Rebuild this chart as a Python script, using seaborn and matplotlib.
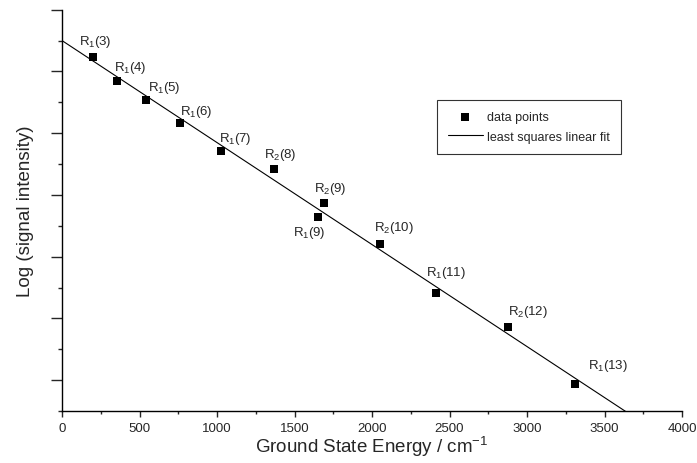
import numpy as np
import pandas as pd
import matplotlib
matplotlib.use('Agg')
import matplotlib.pyplot as plt
import seaborn as sns

# data
labels = ['R$_1$(3)', 'R$_1$(4)', 'R$_1$(5)', 'R$_1$(6)', 'R$_1$(7)', 'R$_2$(8)',
          'R$_2$(9)', 'R$_1$(9)', 'R$_2$(10)', 'R$_1$(11)', 'R$_2$(12)', 'R$_1$(13)']
energy = [202, 353, 542, 763, 1024, 1366, 1688, 1650, 2052, 2411, 2875, 3310]
log_signal = [11.46, 10.70, 10.08, 9.32, 8.42, 7.85, 6.73, 6.29, 5.41, 3.83, 2.71, 0.86]

# least squares linear fit (as drawn in the reference)
fit_intercept = 12.0
fit_slope = -0.003304
fit_x = [0, 4000]

# label offsets in pixels (dx, dy) from each marker
label_offsets = [(-14, 13), (-3, 11), (2, 10), (0, 9), (-2, 10.5), (-10, 11.5),
                 (-10, 12), (-25, -18), (-6, 14), (-10, 18), (0, 13.5), (13, 16.5)]

sns.set_style('ticks')
plt.rcParams['font.family'] = ['Liberation Sans', 'DejaVu Sans']
plt.rcParams['mathtext.default'] = 'regular'

df = pd.DataFrame({'energy': energy, 'log_signal': log_signal, 'label': labels})
fit = pd.DataFrame({'x': fit_x, 'y': [fit_intercept + fit_slope * x for x in fit_x]})

fig = plt.figure(figsize=(6.97, 4.64), dpi=100)
ax = fig.add_axes([62 / 697, 1 - 412 / 464, 620 / 697, (412 - 10.7) / 464])

sns.scatterplot(data=df, x='energy', y='log_signal', marker='s', s=28, color='black',
                edgecolor='black', linewidth=0, ax=ax, label='data points', zorder=3)
sns.lineplot(data=fit, x='x', y='y', color='black', linewidth=0.8, ax=ax,
             label='least squares linear fit')

for (x, y, lab), (dx, dy) in zip(zip(energy, log_signal, labels), label_offsets):
    ax.annotate(lab, (x, y), xytext=(dx, dy), textcoords='offset pixels',
                ha='left', va='baseline', fontsize=9.5)

ax.set_xlim(0, 4000)
ax.set_ylim(0, 13)
ax.set_xticks(np.arange(0, 4001, 500))
ax.set_xticks(np.arange(0, 4001, 250), minor=True)
ax.set_yticks(np.arange(1, 14, 2))
ax.set_yticks(np.arange(0, 13, 2), minor=True)
ax.tick_params(axis='y', which='both', labelleft=False)
ax.tick_params(axis='y', which='major', length=8, width=1)
ax.tick_params(axis='y', which='minor', length=3, width=1)
ax.tick_params(axis='x', which='major', length=4.5, width=1, labelsize=9.5, pad=3.5)
ax.tick_params(axis='x', which='minor', length=2.5, width=1)
for s in ['left', 'bottom']:
    ax.spines[s].set_linewidth(1)
    ax.spines[s].set_color('black')
sns.despine(ax=ax)

ax.set_xlabel('Ground State Energy / cm$^{-1}$', fontsize=13.5, labelpad=0)
ax.set_ylabel('Log (signal intensity)', fontsize=13.5)
ax.yaxis.set_label_coords(-0.045, 0.5)

leg = ax.legend(loc='upper left', bbox_to_anchor=((436.7 - 62) / 620, 1 - (101 - 10.7) / 401.3),
                fontsize=9, frameon=True, fancybox=False, edgecolor='black',
                borderaxespad=0, handlelength=2.8, handletextpad=0.3, labelspacing=0.6,
                borderpad=0.9, markerscale=1.0)
leg.get_frame().set_linewidth(0.8)

fig.savefig('out.png', dpi=100)
